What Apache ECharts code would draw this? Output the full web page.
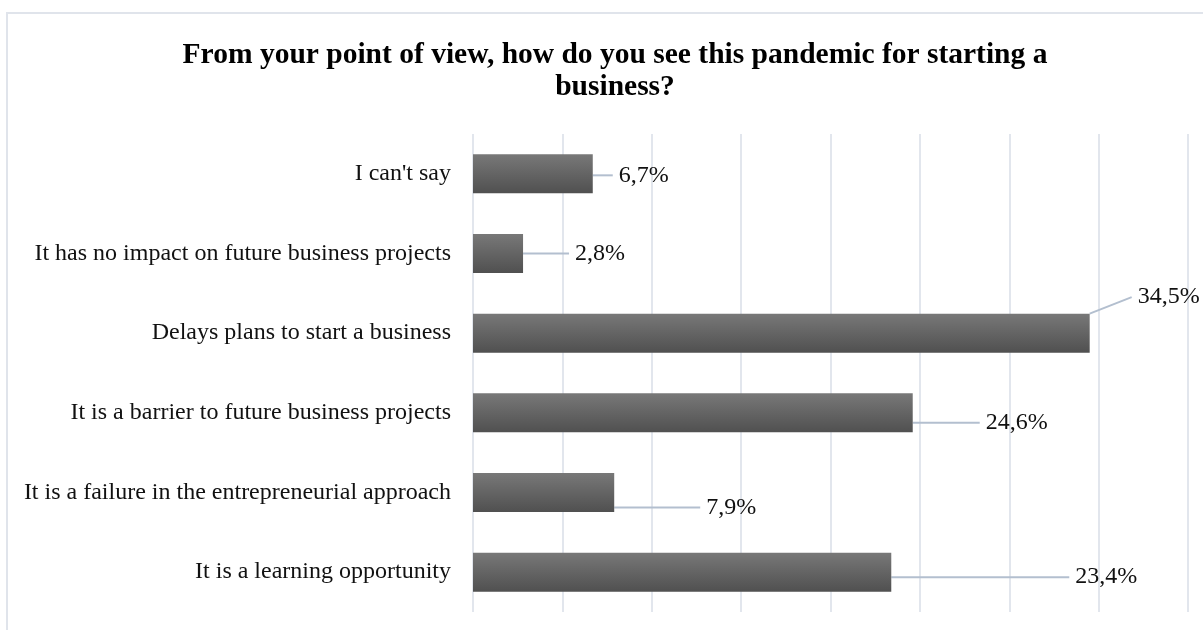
<!DOCTYPE html>
<html>
<head>
<meta charset="utf-8">
<style>
  html, body { margin: 0; padding: 0; background: #ffffff; }
  #chart { width: 1203px; height: 630px; }
</style>
<script src="https://cdn.jsdelivr.net/npm/echarts@6/dist/echarts.min.js"></script>
</head>
<body>
<div id="chart"></div>
<script>
// Survey answers, listed bottom to top as the category axis draws them
const categories = [
  'It is a learning opportunity',
  'It is a failure in the entrepreneurial approach',
  'It is a barrier to future business projects',
  'Delays plans to start a business',
  'It has no impact on future business projects',
  "I can't say"
];
const shares = [23.4, 7.9, 24.6, 34.5, 2.8, 6.7];

// Where each callout label sits relative to its bar end (dx, dy in px)
const calloutOffsets = [
  [178, 5],
  [86, 15],
  [67, 10],
  [42, -36],
  [46, 0],
  [20, 1.5]
];

const chart = echarts.init(document.getElementById('chart'), null, { renderer: 'canvas' });

const serif = '"Liberation Serif", "Times New Roman", serif';

chart.setOption({
  animation: false,
  backgroundColor: '#ffffff',
  title: {
    text: 'From your point of view, how do you see this pandemic for starting a\nbusiness?',
    left: 610,
    textAlign: 'center',
    top: 34,
    textStyle: {
      fontFamily: serif,
      fontWeight: 'bold',
      fontSize: 29.5,
      lineHeight: 32,
      color: '#000000'
    }
  },
  graphic: [{
    type: 'rect',
    silent: true,
    shape: { x: 7, y: 13, width: 1220, height: 640 },
    style: { fill: 'none', stroke: '#e0e4eb', lineWidth: 2 }
  }],
  grid: {
    left: 473,
    right: 15,
    top: 134,
    bottom: 18,
    containLabel: false
  },
  xAxis: {
    type: 'value',
    min: 0,
    max: 40,
    interval: 5,
    axisLabel: { show: false },
    axisLine: { show: false },
    axisTick: { show: false },
    splitLine: { show: true, lineStyle: { color: '#d9dee7', width: 1.5 } }
  },
  yAxis: {
    type: 'category',
    data: categories,
    axisLine: { show: false },
    axisTick: { show: false },
    axisLabel: {
      margin: 22,
      fontFamily: serif,
      fontSize: 24,
      color: '#111111'
    }
  },
  series: [{
    type: 'bar',
    data: shares,
    barWidth: '49%',
    itemStyle: {
      color: new echarts.graphic.LinearGradient(0, 0, 0, 1, [
        { offset: 0, color: '#787878' },
        { offset: 1, color: '#505050' }
      ])
    },
    label: {
      show: true,
      position: 'right',
      distance: 0,
      fontFamily: serif,
      fontSize: 24,
      color: '#111111',
      // leading space keeps a small gap between the leader line and the text
      formatter: p => ' ' + String(p.value).replace('.', ',') + '%'
    },
    labelLine: {
      show: true,
      lineStyle: { color: '#b3bfcf', width: 2 }
    },
    labelLayout: p => ({
      dx: calloutOffsets[p.dataIndex][0],
      dy: calloutOffsets[p.dataIndex][1]
    })
  }]
});
</script>
</body>
</html>
